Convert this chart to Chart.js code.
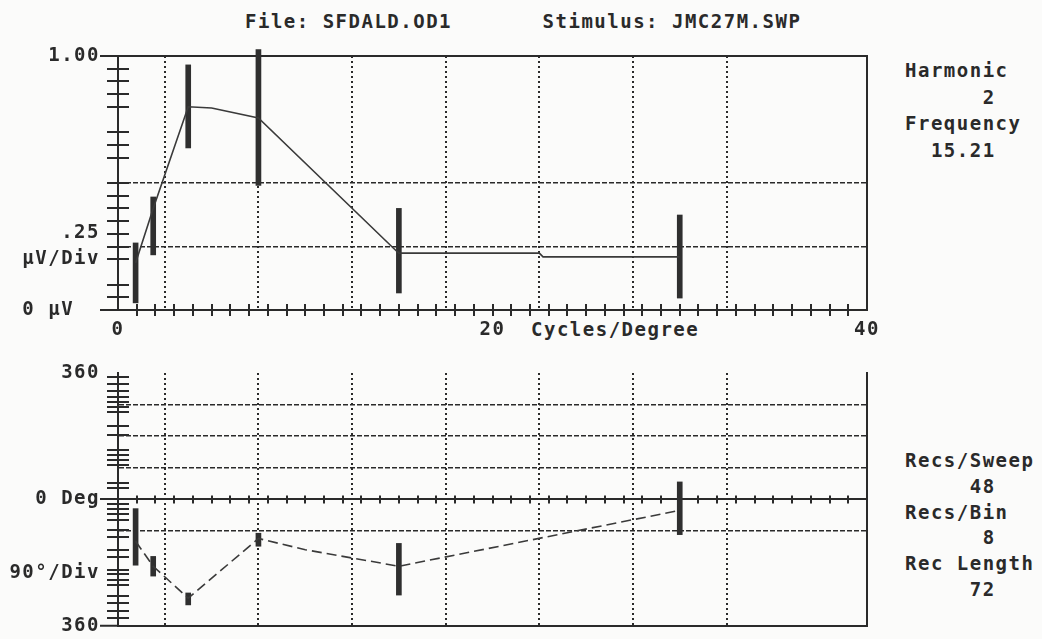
<!DOCTYPE html>
<html>
<head>
<meta charset="utf-8">
<script src="https://cdn.jsdelivr.net/npm/chart.js@4.4.0/dist/chart.umd.min.js"></script>
<style>
  html, body { margin: 0; padding: 0; background: #fbfbfa; }
  body { width: 1042px; height: 639px; position: relative; overflow: hidden; }
  canvas { position: absolute; left: 0; }
  #ampChart { top: 0; }
  #phaseChart { top: 340px; }
  .txt {
    position: absolute;
    font-family: "DejaVu Sans Mono", monospace;
    font-weight: bold;
    font-size: 19px;
    letter-spacing: 1.5px;
    line-height: 26px;
    color: #2a2a2a;
    white-space: pre;
  }
</style>
</head>
<body>
<div class="txt" style="left:245px; top:8px;">File: SFDALD.OD1       Stimulus: JMC27M.SWP</div>
<div class="txt" style="left:905px; top:57px; line-height:26.5px;">Harmonic
      2
Frequency
  15.21</div>
<div class="txt" style="left:905px; top:448px; line-height:25.8px;">Recs/Sweep
     48
Recs/Bin
      8
Rec Length
     72</div>
<div class="txt" style="left:531px; top:316px;">Cycles/Degree</div>

<canvas id="ampChart" width="1042" height="340"></canvas>
<canvas id="phaseChart" width="1042" height="299"></canvas>

<script>
"use strict";

// Sweep bins (cycles/degree) where the error bars sit
const sweepFreqs = [0.94, 1.88, 3.75, 7.5, 15, 30];

// Amplitude (uV): error bar ranges and the trace
const ampLow  = [0.028, 0.217, 0.638, 0.49, 0.067, 0.047];
const ampHigh = [0.264, 0.445, 0.965, 1.025, 0.40, 0.374];
const ampTraceX = [0.94, 1.88, 3.75, 5.0, 7.5, 14.7, 15, 22.5, 22.7, 30];
const ampTraceY = [0.185, 0.40, 0.80, 0.795, 0.756, 0.244, 0.224, 0.224, 0.209, 0.209];

// Phase (deg): error bar ranges and the trace
const phaseLow  = [-187, -218, -300, -133, -272, -100];
const phaseHigh = [-26, -162, -266, -96, -125, 50];
const phaseTraceX = [0.94, 1.88, 3.75, 7.5, 10, 15, 30];
const phaseTraceY = [-119, -190, -281, -111, -143, -190, -31];

// Axis ticks and labels
const xGridVals = [0, 5, 10, 15, 20, 25, 30, 35, 40];
const xLabelVals = [0, 20, 40];
const ampTickVals = [0, 0.25, 0.5, 1];
const ampTickLabels = ["0 \u03bcV  ", [".25", "\u03bcV/Div"], "", "1.00"];
const ampGridVals = [0.25, 0.5, 1];
const ampMinorTicks = [0.05, 0.1, 0.2, 0.25, 0.3, 0.35, 0.4, 0.45, 0.5, 0.6, 0.65, 0.7, 0.8, 0.85, 0.9, 0.95];
const phaseTickVals = [-360, -210, -90, 0, 90, 180, 270, 360];
const phaseTickLabels = ["360", "90\u00b0/Div", "", "0 Deg", "", "", "", "360"];
const phaseGridVals = [-90, 0, 90, 180, 270];
const phaseMinorTicks = [348, 329, 309, 292, 278, 264, 250, 208, 183, 140, 126, 112, 98, 48, 34,
  -14, -28, -42, -59, -87, -107, -143, -163, -200, -213, -228, -242, -275, -295, -318, -337];

const INK = "#2a2a2a";
const labelFont = { family: "DejaVu Sans Mono", size: 19, weight: "bold", lineHeight: 1.37 };

// letter spacing to widen the mono font like the old screen font
const spacing = {
  id: "spacing",
  beforeUpdate(chart) { chart.ctx.letterSpacing = "1.5px"; },
  beforeDraw(chart) { chart.ctx.letterSpacing = "1.5px"; }
};

// ticks that cross the axis lines, plus the right frame line
const crossTicks = {
  id: "crossTicks",
  beforeDatasetsDraw(chart, args, o) {
    const { ctx, chartArea: a, scales: { x, y } } = chart;
    ctx.save();
    ctx.strokeStyle = INK;
    ctx.lineWidth = 2;
    ctx.beginPath();
    o.yVals.forEach(v => {
      const py = Math.round(y.getPixelForValue(v));
      ctx.moveTo(a.left - o.yHalf, py);
      ctx.lineTo(a.left + o.yHalf, py);
    });
    const ly = y.getPixelForValue(o.lineAt);
    for (let v = 1; v < 40; v++) {
      const px = Math.round(x.getPixelForValue(v));
      ctx.moveTo(px, ly - o.xHalf);
      ctx.lineTo(px, ly + o.xHalf);
    }
    ctx.moveTo(a.right, a.top - 1);
    ctx.lineTo(a.right, a.bottom);
    ctx.stroke();
    ctx.restore();
  }
};

function xScale(height, showLabels) {
  return {
    type: "linear", min: 0, max: 40, offset: false,
    afterBuildTicks: s => { s.ticks = xGridVals.map(v => ({ value: v })); },
    afterFit: s => { s.height = height; },
    grid: {
      color: c => (c.tick && c.tick.value > 0 && c.tick.value < 40) ? INK : "transparent",
      lineWidth: 2,
      drawTicks: false
    },
    border: { color: INK, width: 2, dash: [2, 3] },
    ticks: {
      display: showLabels, padding: 7, font: labelFont, color: INK,
      maxRotation: 0, autoSkip: false,
      callback: v => xLabelVals.includes(v) ? String(v) : ""
    }
  };
}

function yScale(min, max, vals, labels, gridVals, stubVals) {
  return {
    type: "linear", min: min, max: max,
    afterBuildTicks: s => { s.ticks = vals.map(v => ({ value: v })); },
    afterFit: s => { s.width = 118; },
    grid: {
      color: c => (c.tick && gridVals.includes(c.tick.value)) ? INK : "transparent",
      lineWidth: c => (c.tick && (c.tick.value === max || c.tick.value === 0)) ? 2 : 1.5,
      drawTicks: true,
      tickLength: 18,
      tickWidth: 2,
      tickColor: c => (c.tick && stubVals.includes(c.tick.value)) ? INK : "transparent"
    },
    border: {
      color: INK, width: 2,
      dash: c => (c.tick && (c.tick.value === max || c.tick.value === 0)) ? [] : [5, 2]
    },
    ticks: {
      padding: 0, font: labelFont, color: INK, autoSkip: false,
      callback: (v, i) => labels[vals.indexOf(v)]
    }
  };
}

function makeDatasets(traceX, traceY, low, high, dashed) {
  return [
    {
      type: "line",
      data: traceX.map((x, i) => ({ x: x, y: traceY[i] })),
      borderColor: "#3a3a3a",
      borderWidth: 1.6,
      borderDash: dashed ? [10, 5] : [],
      pointRadius: 0,
      tension: 0
    },
    {
      type: "bar",
      data: sweepFreqs.map((x, i) => ({ x: x, y: [low[i], high[i]] })),
      backgroundColor: "#2f2f2f",
      barThickness: 5,
      clip: false
    }
  ];
}

const common = {
  responsive: false,
  animation: false,
  events: [],
  plugins: { legend: { display: false }, tooltip: { enabled: false } }
};

new Chart(document.getElementById("ampChart"), {
  type: "line",
  data: { datasets: makeDatasets(ampTraceX, ampTraceY, ampLow, ampHigh, false) },
  options: Object.assign({}, common, {
    layout: { padding: { top: 56, right: 175, left: 0, bottom: 0 } },
    plugins: Object.assign({}, common.plugins, {
      crossTicks: { yVals: ampMinorTicks, yHalf: 11, lineAt: 0, xHalf: 6 }
    }),
    scales: {
      x: xScale(30, true),
      y: yScale(0, 1, ampTickVals, ampTickLabels, ampGridVals, [0, 1])
    }
  }),
  plugins: [spacing, crossTicks]
});

new Chart(document.getElementById("phaseChart"), {
  type: "line",
  data: { datasets: makeDatasets(phaseTraceX, phaseTraceY, phaseLow, phaseHigh, true) },
  options: Object.assign({}, common, {
    layout: { padding: { top: 33, right: 175, left: 0, bottom: 0 } },
    plugins: Object.assign({}, common.plugins, {
      crossTicks: { yVals: phaseMinorTicks, yHalf: 11, lineAt: 0, xHalf: 4 }
    }),
    scales: {
      x: xScale(11, false),
      y: yScale(-360, 360, phaseTickVals, phaseTickLabels, phaseGridVals, [-360, 0])
    }
  }),
  plugins: [spacing, crossTicks]
});
</script>
</body>
</html>
